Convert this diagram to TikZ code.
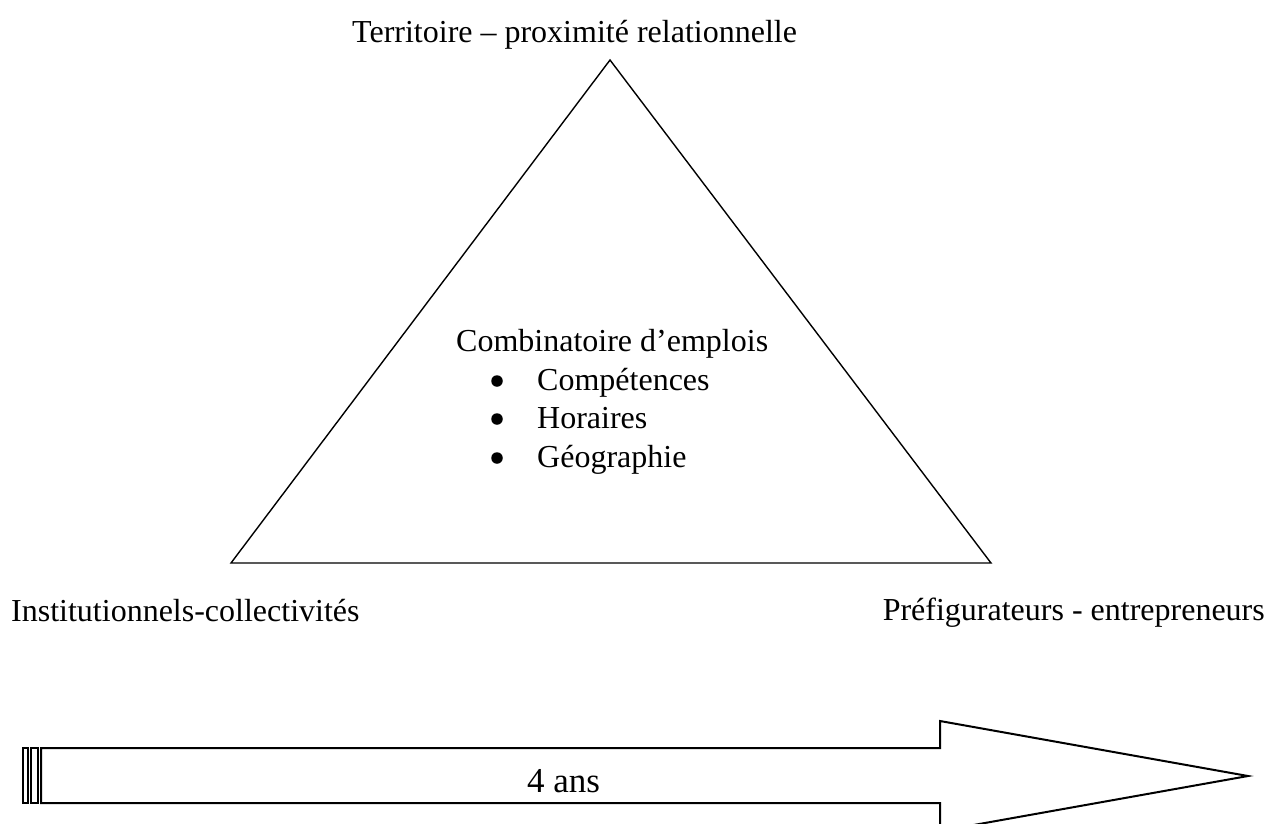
\documentclass[tikz,border=0pt]{standalone}
\usepackage{fontspec}
\setmainfont{Liberation Serif}
\begin{document}
\begin{tikzpicture}[x=1pt,y=-1pt,
  lbl/.style={inner sep=0pt,font=\fontsize{32}{36}\selectfont},
  big/.style={inner sep=0pt,font=\fontsize{35}{40}\selectfont},
  bul/.style={circle,fill=black,inner sep=0pt,minimum size=11.5pt},
  edge/.style={line width=1.4pt,line join=miter},
  arr/.style={line width=2pt,line join=miter}]
\useasboundingbox (0,0) rectangle (1269,823);
\clip (0,0) rectangle (1269,823);
% triangle
\coordinate (top) at (610,60);
\coordinate (bl) at (231,563);
\coordinate (br) at (991,563);
\draw[edge] (top) -- (bl) -- (br) -- cycle;
% labels
\node[lbl,anchor=base west] (t) at (352,42) {Territoire – proximité relationnelle};
\node[lbl,anchor=base west] (inst) at (11,621) {Institutionnels-collectivités};
\node[lbl,anchor=base east] (pref) at (1265,620) {Préfigurateurs - entrepreneurs};
\node[lbl,anchor=base west] (comb) at (456,351) {Combinatoire d’emplois};
\node[bul] (b1) at (497,381) {};
\node[bul] (b2) at (497,419) {};
\node[bul] (b3) at (497,458) {};
\node[lbl,anchor=base west] (i1) at (537,390) {Compétences};
\node[lbl,anchor=base west] (i2) at (537,428) {Horaires};
\node[lbl,anchor=base west] (i3) at (537,467) {Géographie};
% striped arrow
\draw[line width=1.2pt] (23,748) rectangle (28,803);
\draw[line width=1.2pt] (31,748) rectangle (38,803);
\draw[arr] (41,748) -- (940,748) -- (940,721) -- (1248,776) -- (940,831) -- (940,803) -- (41,803) -- cycle;
\node[big,anchor=base west] (ans) at (527,792) {4 ans};
\end{tikzpicture}
\end{document}
